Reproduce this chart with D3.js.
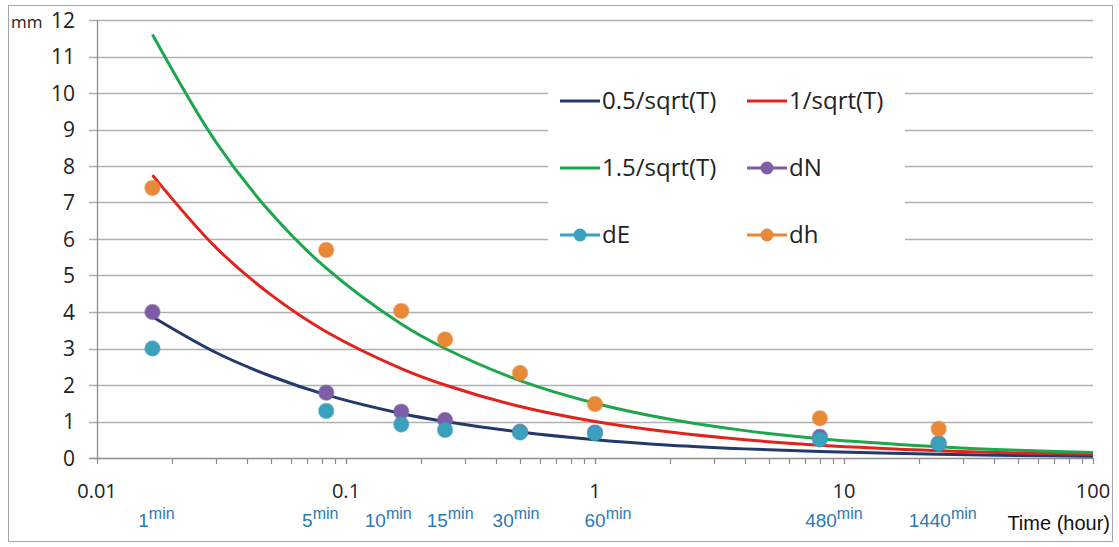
<!DOCTYPE html>
<html>
<head>
<meta charset="utf-8">
<script src="https://cdn.jsdelivr.net/npm/d3@7"></script>
<style>
  body { margin: 0; background: #fff; }
  svg { font-family: "Open Sans", Lato, sans-serif; }
  .arial { font-family: "Liberation Sans", Arial, sans-serif; }
</style>
</head>
<body>
<div id="chart"></div>
<script>
// hours for the fitted curves
var curveT = [0.0167, 0.03, 0.05, 0.0833, 0.1667, 0.25, 0.5, 1, 2, 4, 8, 24, 50, 100];
var curve05 = [3.87, 2.89, 2.24, 1.73, 1.22, 1.00, 0.71, 0.50, 0.35, 0.25, 0.18, 0.10, 0.07, 0.05];
var curve10 = [7.75, 5.77, 4.47, 3.46, 2.45, 2.00, 1.41, 1.00, 0.71, 0.50, 0.35, 0.20, 0.14, 0.10];
var curve15 = [11.6, 8.66, 6.71, 5.20, 3.67, 3.00, 2.12, 1.50, 1.06, 0.75, 0.53, 0.31, 0.21, 0.15];

// measurement epochs (hours) and their minute labels
var obsT = [0.0167, 0.0833, 0.1667, 0.25, 0.5, 1, 8, 24];
var obsLabels = ["1", "5", "10", "15", "30", "60", "480", "1440"];
var dN = [4.0, 1.79, 1.27, 1.04, 0.72, 0.70, 0.58, 0.40];
var dE = [3.0, 1.29, 0.92, 0.77, 0.70, 0.68, 0.51, 0.39];
var dh = [7.4, 5.7, 4.03, 3.25, 2.33, 1.48, 1.09, 0.80];

var yTicks = [0, 1, 2, 3, 4, 5, 6, 7, 8, 9, 10, 11, 12];
var xTicks = [0.01, 0.1, 1, 10, 100];

// label nudges so they sit like the original
var labelDx = [4, -6, -13, 5, -4, 13, 14, 4];

var W = 1119, H = 547;
var margin = { top: 20, right: 26, bottom: 89, left: 97 };
var width = W - margin.left - margin.right,
    height = H - margin.top - margin.bottom;

var svg = d3.select("#chart").append("svg")
    .attr("width", W)
    .attr("height", H);

svg.append("rect")
    .attr("x", 8.5).attr("y", 5.5)
    .attr("width", 1104).attr("height", 536)
    .attr("fill", "#fff")
    .attr("stroke", "#a6a6a6");

var g = svg.append("g")
    .attr("transform", "translate(" + margin.left + "," + margin.top + ")");

var x = d3.scaleLog().domain([0.01, 100]).range([0, width]);
var y = d3.scaleLinear().domain([0, 12]).range([height, 0]);

// gridlines
g.selectAll(".grid")
    .data(yTicks)
    .enter().append("line")
    .attr("class", "grid")
    .attr("x1", -8).attr("x2", width)
    .attr("y1", function(d) { return Math.round(y(d)) + 0.5; })
    .attr("y2", function(d) { return Math.round(y(d)) + 0.5; })
    .attr("stroke", function(d) { return d === 0 ? "#8c8c8c" : "#b0b0b0"; })
    .attr("stroke-width", 1.3);

// y axis line
g.append("line")
    .attr("x1", 0.5).attr("x2", 0.5)
    .attr("y1", 0).attr("y2", height)
    .attr("stroke", "#8c8c8c").attr("stroke-width", 1.3);

// y labels
g.selectAll(".ylab")
    .data(yTicks)
    .enter().append("text")
    .attr("x", -22)
    .attr("y", function(d) { return y(d); })
    .attr("dy", "0.36em")
    .attr("text-anchor", "end")
    .attr("font-size", 21)
    .attr("fill", "#222")
    .text(function(d) { return d; });

svg.append("text")
    .attr("x", 11).attr("y", 28)
    .attr("font-size", 17)
    .attr("fill", "#222")
    .text("mm");

// x axis minor ticks
var minor = [];
[0.01, 0.1, 1, 10].forEach(function(dec) {
    for (var k = 1; k <= 10; k++) minor.push(dec * k);
});
g.selectAll(".xtick")
    .data(minor)
    .enter().append("line")
    .attr("x1", function(d) { return Math.round(x(d)) + 0.5; })
    .attr("x2", function(d) { return Math.round(x(d)) + 0.5; })
    .attr("y1", height).attr("y2", height + 6)
    .attr("stroke", "#8c8c8c").attr("stroke-width", 1.2);

g.selectAll(".xlab")
    .data(xTicks)
    .enter().append("text")
    .attr("x", function(d) { return x(d); })
    .attr("y", height + 40)
    .attr("text-anchor", "middle")
    .attr("font-size", 20)
    .attr("fill", "#222")
    .text(function(d) { return d; });

// minute labels
var minLab = g.selectAll(".minlab")
    .data(obsT)
    .enter().append("text")
    .attr("class", "arial")
    .attr("x", function(d, i) { return x(d) + labelDx[i]; })
    .attr("y", height + 69)
    .attr("text-anchor", "middle")
    .attr("fill", "#2e79b0");
minLab.append("tspan")
    .attr("font-size", 19)
    .text(function(d, i) { return obsLabels[i]; });
minLab.append("tspan")
    .attr("font-size", 16)
    .attr("dy", -8)
    .text("min");

svg.append("text")
    .attr("class", "arial")
    .attr("x", 1110).attr("y", 530)
    .attr("text-anchor", "end")
    .attr("font-size", 20)
    .attr("fill", "#111")
    .text("Time (hour)");

// legend background hides gridlines
g.append("rect")
    .attr("x", 548 - margin.left).attr("y", 72 - margin.top)
    .attr("width", 357).attr("height", 188)
    .attr("fill", "#fff");

// curves
var line = d3.line()
    .x(function(d) { return x(d[0]); })
    .y(function(d) { return y(d[1]); })
    .curve(d3.curveCatmullRom.alpha(0.5));

var curves = [
    { name: "0.5/sqrt(T)", vals: curve05, color: "#213a6b" },
    { name: "1/sqrt(T)", vals: curve10, color: "#e3221d" },
    { name: "1.5/sqrt(T)", vals: curve15, color: "#1ea64d" }
];

curves.forEach(function(c) {
    g.append("path")
        .datum(curveT.map(function(t, i) { return [t, c.vals[i]]; }))
        .attr("fill", "none")
        .attr("stroke", c.color)
        .attr("stroke-width", 3)
        .attr("d", line);
});

var points = [
    { name: "dN", vals: dN, color: "#7d5ea6" },
    { name: "dE", vals: dE, color: "#3aa0bc" },
    { name: "dh", vals: dh, color: "#e8893a" }
];

points.forEach(function(p) {
    g.selectAll(".pt-" + p.name)
        .data(obsT)
        .enter().append("circle")
        .attr("cx", function(d) { return x(d); })
        .attr("cy", function(d, i) { return y(p.vals[i]); })
        .attr("r", 7.5)
        .attr("fill", p.color)
        .attr("stroke", p.color)
        .attr("stroke-opacity", 0.5)
        .attr("stroke-width", 1.5);
});

// legend
var legendItems = [
    { name: "0.5/sqrt(T)", color: "#213a6b", marker: false, col: 0, row: 0 },
    { name: "1/sqrt(T)", color: "#e3221d", marker: false, col: 1, row: 0 },
    { name: "1.5/sqrt(T)", color: "#1ea64d", marker: false, col: 0, row: 1 },
    { name: "dN", color: "#7d5ea6", marker: true, col: 1, row: 1 },
    { name: "dE", color: "#3aa0bc", marker: true, col: 0, row: 2 },
    { name: "dh", color: "#e8893a", marker: true, col: 1, row: 2 }
];

var legend = svg.append("g");
var colX = [560, 747], rowY = [101, 168, 235];

legendItems.forEach(function(it) {
    var lx = colX[it.col], ly = rowY[it.row];
    legend.append("line")
        .attr("x1", lx).attr("x2", lx + 40)
        .attr("y1", ly).attr("y2", ly)
        .attr("stroke", it.color).attr("stroke-width", 3);
    if (it.marker) {
        legend.append("circle")
            .attr("cx", lx + 20).attr("cy", ly)
            .attr("r", 6.5)
            .attr("fill", it.color);
    }
    legend.append("text")
        .attr("x", lx + 42).attr("y", ly)
        .attr("dy", "0.35em")
        .attr("font-size", 24)
        .attr("fill", "#222")
        .text(it.name);
});
</script>
</body>
</html>
